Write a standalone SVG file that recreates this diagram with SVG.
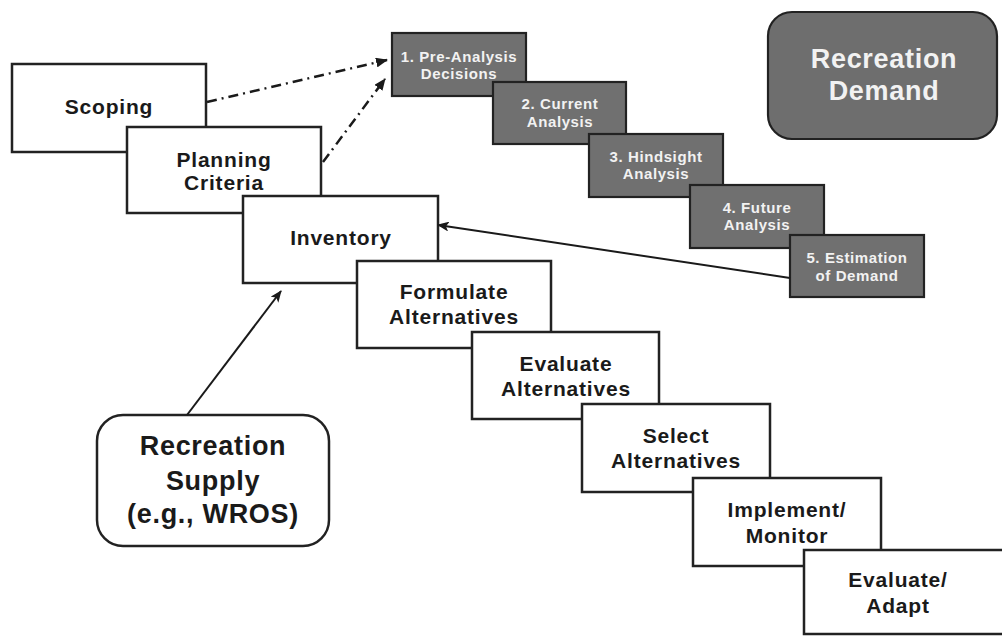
<svg xmlns="http://www.w3.org/2000/svg" width="1002" height="637" viewBox="0 0 1002 637">
<defs>
<style>
.wb{fill:#ffffff;stroke:#222222;stroke-width:2.5}
.db{fill:#707070;stroke:#222222;stroke-width:2.2}
.wt{font-family:"Liberation Sans",Arial,sans-serif;font-weight:bold;font-size:21px;letter-spacing:0.8px;fill:#1a1a1a;text-anchor:middle}
.dt{font-family:"Liberation Sans",Arial,sans-serif;font-weight:bold;font-size:15px;letter-spacing:0.6px;fill:#f2f2f2;text-anchor:middle}
.bt{font-family:"Liberation Sans",Arial,sans-serif;font-weight:bold;font-size:27px;letter-spacing:0.7px;text-anchor:middle}
.conn{fill:none;stroke:#1a1a1a;stroke-width:2}
.dd{stroke-dasharray:10 5 2 5;stroke-width:2.5}
</style>
<marker id="ah" viewBox="0 0 12 10" refX="11" refY="5" markerWidth="12" markerHeight="10" markerUnits="userSpaceOnUse" orient="auto">
<path d="M0,0 L12,5 L0,10 Z" fill="#1a1a1a"/>
</marker>
<marker id="ah2" viewBox="0 0 12 10" refX="11" refY="5" markerWidth="12" markerHeight="10" markerUnits="userSpaceOnUse" orient="auto">
<path d="M0,0 L12,5 L0,10 L3,5 Z" fill="#1a1a1a"/>
</marker>
</defs>
<rect x="0" y="0" width="1002" height="637" fill="#ffffff"/>

<g id="recreation-demand">
<rect x="768" y="12" width="229" height="127" rx="24" ry="24" fill="#6e6e6e" stroke="#222222" stroke-width="2.2"/>
<text class="bt" x="884" y="68" fill="#f2f2f2">Recreation</text>
<text class="bt" x="884" y="100" fill="#f2f2f2">Demand</text>
</g>

<g id="scoping">
<rect class="wb" x="12" y="64" width="194" height="88"/>
<text class="wt" x="109" y="114">Scoping</text>
</g>
<g id="planning-criteria">
<rect class="wb" x="127" y="127" width="194" height="86"/>
<text class="wt" x="224" y="167">Planning</text>
<text class="wt" x="224" y="190">Criteria</text>
</g>
<g id="inventory">
<rect class="wb" x="243" y="196" width="195" height="87"/>
<text class="wt" x="341" y="245">Inventory</text>
</g>
<g id="formulate-alternatives">
<rect class="wb" x="357" y="261" width="194" height="87"/>
<text class="wt" x="454" y="299">Formulate</text>
<text class="wt" x="454" y="324">Alternatives</text>
</g>
<g id="evaluate-alternatives">
<rect class="wb" x="472" y="332" width="187" height="87"/>
<text class="wt" x="566" y="371">Evaluate</text>
<text class="wt" x="566" y="396">Alternatives</text>
</g>
<g id="select-alternatives">
<rect class="wb" x="582" y="404" width="188" height="88"/>
<text class="wt" x="676" y="443">Select</text>
<text class="wt" x="676" y="468">Alternatives</text>
</g>
<g id="implement-monitor">
<rect class="wb" x="693" y="478" width="188" height="88"/>
<text class="wt" x="787" y="517">Implement/</text>
<text class="wt" x="787" y="543">Monitor</text>
</g>
<g id="evaluate-adapt">
<rect class="wb" x="804" y="550" width="210" height="84"/>
<text class="wt" x="898" y="587">Evaluate/</text>
<text class="wt" x="898" y="613">Adapt</text>
</g>

<g id="pre-analysis">
<rect class="db" x="392" y="33" width="134" height="63"/>
<text class="dt" x="459" y="62">1. Pre-Analysis</text>
<text class="dt" x="459" y="79">Decisions</text>
</g>
<g id="current-analysis">
<rect class="db" x="493" y="82" width="133" height="62"/>
<text class="dt" x="560" y="109">2. Current</text>
<text class="dt" x="560" y="127">Analysis</text>
</g>
<g id="hindsight-analysis">
<rect class="db" x="589" y="134" width="134" height="63"/>
<text class="dt" x="656" y="162">3. Hindsight</text>
<text class="dt" x="656" y="179">Analysis</text>
</g>
<g id="future-analysis">
<rect class="db" x="690" y="185" width="134" height="63"/>
<text class="dt" x="757" y="213">4. Future</text>
<text class="dt" x="757" y="230">Analysis</text>
</g>
<g id="estimation-of-demand">
<rect class="db" x="790" y="235" width="134" height="62"/>
<text class="dt" x="857" y="263">5. Estimation</text>
<text class="dt" x="857" y="281">of Demand</text>
</g>

<g id="recreation-supply">
<rect x="97" y="415" width="232" height="131" rx="26" ry="26" fill="#ffffff" stroke="#222222" stroke-width="2.5"/>
<text class="bt" x="213" y="455" fill="#1a1a1a">Recreation</text>
<text class="bt" x="213" y="490" fill="#1a1a1a">Supply</text>
<text class="bt" x="213" y="523" fill="#1a1a1a">(e.g., WROS)</text>
</g>

<g id="connectors">
<line class="conn dd" x1="207" y1="102" x2="387" y2="60" marker-end="url(#ah)"/>
<line class="conn dd" x1="323" y1="162" x2="385" y2="79" marker-end="url(#ah)"/>
<line class="conn" x1="790" y1="278" x2="438" y2="225" marker-end="url(#ah2)"/>
<line class="conn" x1="187" y1="415" x2="281" y2="291" marker-end="url(#ah2)"/>
</g>
</svg>
